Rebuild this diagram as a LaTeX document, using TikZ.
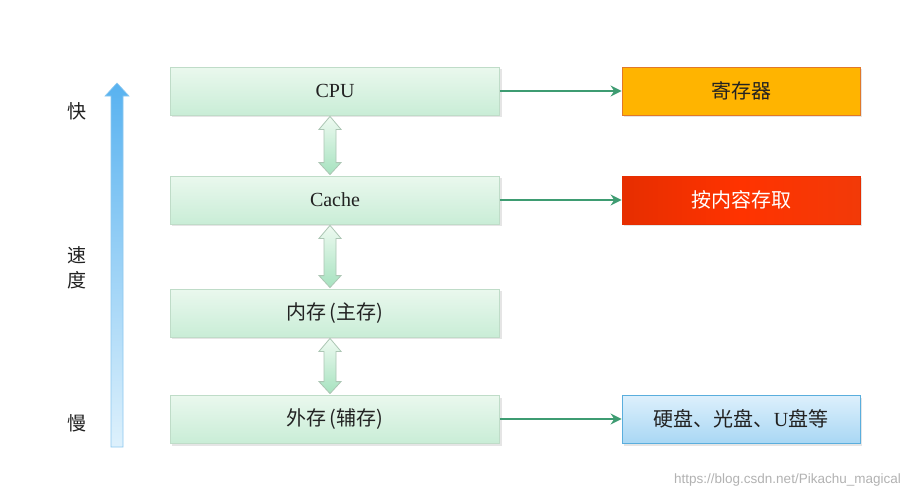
\documentclass[tikz,border=0pt]{standalone}
\usepackage{fontspec}
\setmainfont{Liberation Serif}
\newfontfamily\cjk{Noto Sans CJK SC}
\newfontfamily\wmfont{Liberation Sans}
\usetikzlibrary{calc,arrows.meta}
\definecolor{boxtop}{HTML}{EAF8EE}
\definecolor{boxbot}{HTML}{C9EDD6}
\definecolor{boxline}{HTML}{BFDCC8}
\definecolor{dbltop}{HTML}{EEFAF1}
\definecolor{dblbot}{HTML}{A6E2BF}
\definecolor{linkgreen}{HTML}{3E9C72}
\definecolor{regfill}{HTML}{FFB400}
\definecolor{regline}{HTML}{E0782A}
\definecolor{redtop}{HTML}{F23A08}
\definecolor{redbot}{HTML}{E62E00}
\definecolor{diskline}{HTML}{5AAEDD}
\definecolor{disktop}{HTML}{DDF0FC}
\definecolor{diskbot}{HTML}{A9D7F4}
\definecolor{txt}{HTML}{222222}
\tikzset{
  level/.style={draw=boxline, line width=0.8pt, top color=boxtop, bottom color=boxbot,
    minimum width=329pt, minimum height=48pt, inner sep=0pt, text=txt,
    font=\fontsize{20}{22}\selectfont},
  side/.style={minimum width=238pt, minimum height=48pt, inner sep=0pt, line width=0.8pt,
    font=\fontsize{20}{22}\selectfont},
  link/.style={draw=linkgreen, line width=2.8pt, -{Stealth[length=11pt,width=11pt]}},
  dbl/.style={draw=boxline!90!black, line width=0.8pt, top color=dbltop, bottom color=dblbot},
  speed/.style={font=\cjk\fontsize{19}{20}\selectfont, text=txt}
}
\begin{document}
\begin{tikzpicture}[x=1pt,y=-1pt]
\useasboundingbox (0,0) rectangle (909,498);
\fill[white] (0,0) rectangle (909,498);
% shadows
\foreach \y in {67,176,289,396}{\fill[black!10] (172,\y+2) rectangle (502,\y+50);}
\foreach \y in {67,176,396}{\fill[black!10] (624,\y+2) rectangle (862,\y+50);}
% left level boxes
\node[level] (cpu) at (335,91) {CPU};
\node[level] (cache) at (335,200) {Cache};
\node[level] (mem) at (335,313) {\cjk 内存\,(主存)};
\node[level] (ext) at (335,419) {\cjk 外存\,(辅存)};
% right boxes
\node[side, draw=regline, fill=regfill, text=txt] (reg) at (741,91) {\cjk 寄存器};
\node[side, draw=redbot, left color=redbot, right color=redtop, middle color=red!60!orange, text=white] (cam) at (741,200) {\cjk 按内容存取};
\node[side, draw=diskline, top color=disktop, bottom color=diskbot, text=txt] (disk) at (741,419) {\cjk 硬盘、光盘、{\rmfamily U}盘等};
% links
\draw[link] (cpu.east) -- (reg.west);
\draw[link] (cache.east) -- (cam.west);
\draw[link] (ext.east) -- (disk.west);
% double arrows
\foreach \a/\b in {cpu/cache,cache/mem,mem/ext}{
  \path[dbl] ($(\a.south)+(-5,1)$) -- ++(11,13) -- ++(-5,0) -- ($(\b.north)+(1,-13)$) -- ++(5,0)
    -- ($(\b.north)+(-5,-1)$) -- ++(-11,-12) -- ++(5,0) -- ($(\a.south)+(-11,14)$) -- ++(-5,0) -- cycle;
}
% speed arrow
\path[draw={rgb,255:red,140;green,200;blue,240}, line width=0.6pt, top color={rgb,255:red,88;green,178;blue,240}, bottom color={rgb,255:red,222;green,241;blue,252}]
  (117,83) -- (129,96) -- (123,96) -- (123,447) -- (111,447) -- (111,96) -- (105,96) -- cycle;
\node[speed] (fast) at (77,111) {快};
\node[speed] (sp1) at (77,255) {速};
\node[speed] (sp2) at (77,280) {度};
\node[speed] (slow) at (77,423) {慢};
% watermark
\node[anchor=east, text=black!30, font=\wmfont\fontsize{13.5}{14}\selectfont, inner sep=0pt] (wm) at (901,480) {https://blog.csdn.net/Pikachu\_magical};
\end{tikzpicture}
\end{document}
